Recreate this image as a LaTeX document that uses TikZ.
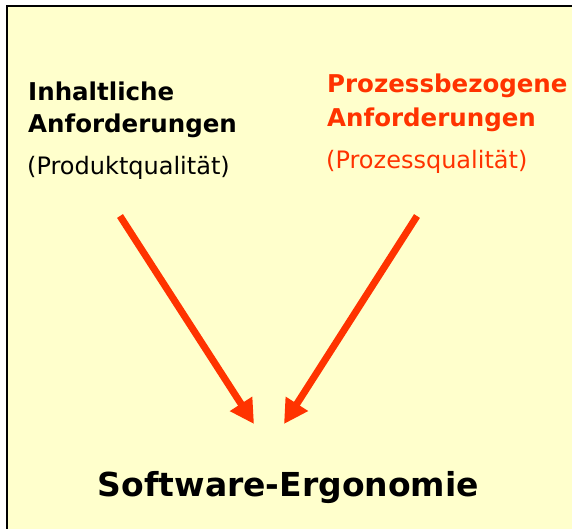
\documentclass[tikz,border=0pt]{standalone}
\usepackage{fontspec}
\setmainfont{DejaVu Sans}
\usetikzlibrary{arrows.meta}
\definecolor{paper}{HTML}{FFFFCC}
\definecolor{accent}{HTML}{FF3300}
\tikzset{
  head/.style={inner sep=0pt, anchor=base west, font=\fontsize{24.5}{29}\selectfont\bfseries},
  sub/.style={inner sep=0pt, anchor=base west, font=\fontsize{24}{29}\selectfont},
  flow/.style={draw=accent, line width=7pt, line cap=butt,
    -{Triangle[length=24pt, width=25pt]}},
}
\begin{document}
\begin{tikzpicture}[x=1pt, y=-1pt]
  \useasboundingbox (0,0) rectangle (572,529);
  % panel with its shaded edge
  \fill[black!35] (8.5,7.5) rectangle (580,540);
  \fill[paper] (7,6) rectangle (580,540);
  \draw[black, line width=2pt] (7,540) -- (7,6) -- (580,6);

  % left column
  \node[head] (lt1) at (28,101) {Inhaltliche};
  \node[head] (lt2) at (28,133) {Anforderungen};
  \node[sub]  (ls)  at (27,175) {(Produktqualität)};

  % right column
  \node[head, text=accent] (rt1) at (327,92.5) {Prozessbezogene};
  \node[head, text=accent] (rt2) at (327,127) {Anforderungen};
  \node[sub, text=accent]  (rs)  at (326,169) {(Prozessqualität)};

  % result
  \node[inner sep=0pt, anchor=base, font=\fontsize{33}{40}\selectfont\bfseries]
    (se) at (288.5,496) {Software-Ergonomie};

  % arrows towards the result
  \coordinate (la) at (120,216);
  \coordinate (lb) at (254,424);
  \coordinate (ra) at (417,216);
  \coordinate (rb) at (284,424);
  \draw[flow] (la) -- (lb);
  \draw[flow] (ra) -- (rb);
\end{tikzpicture}
\end{document}
